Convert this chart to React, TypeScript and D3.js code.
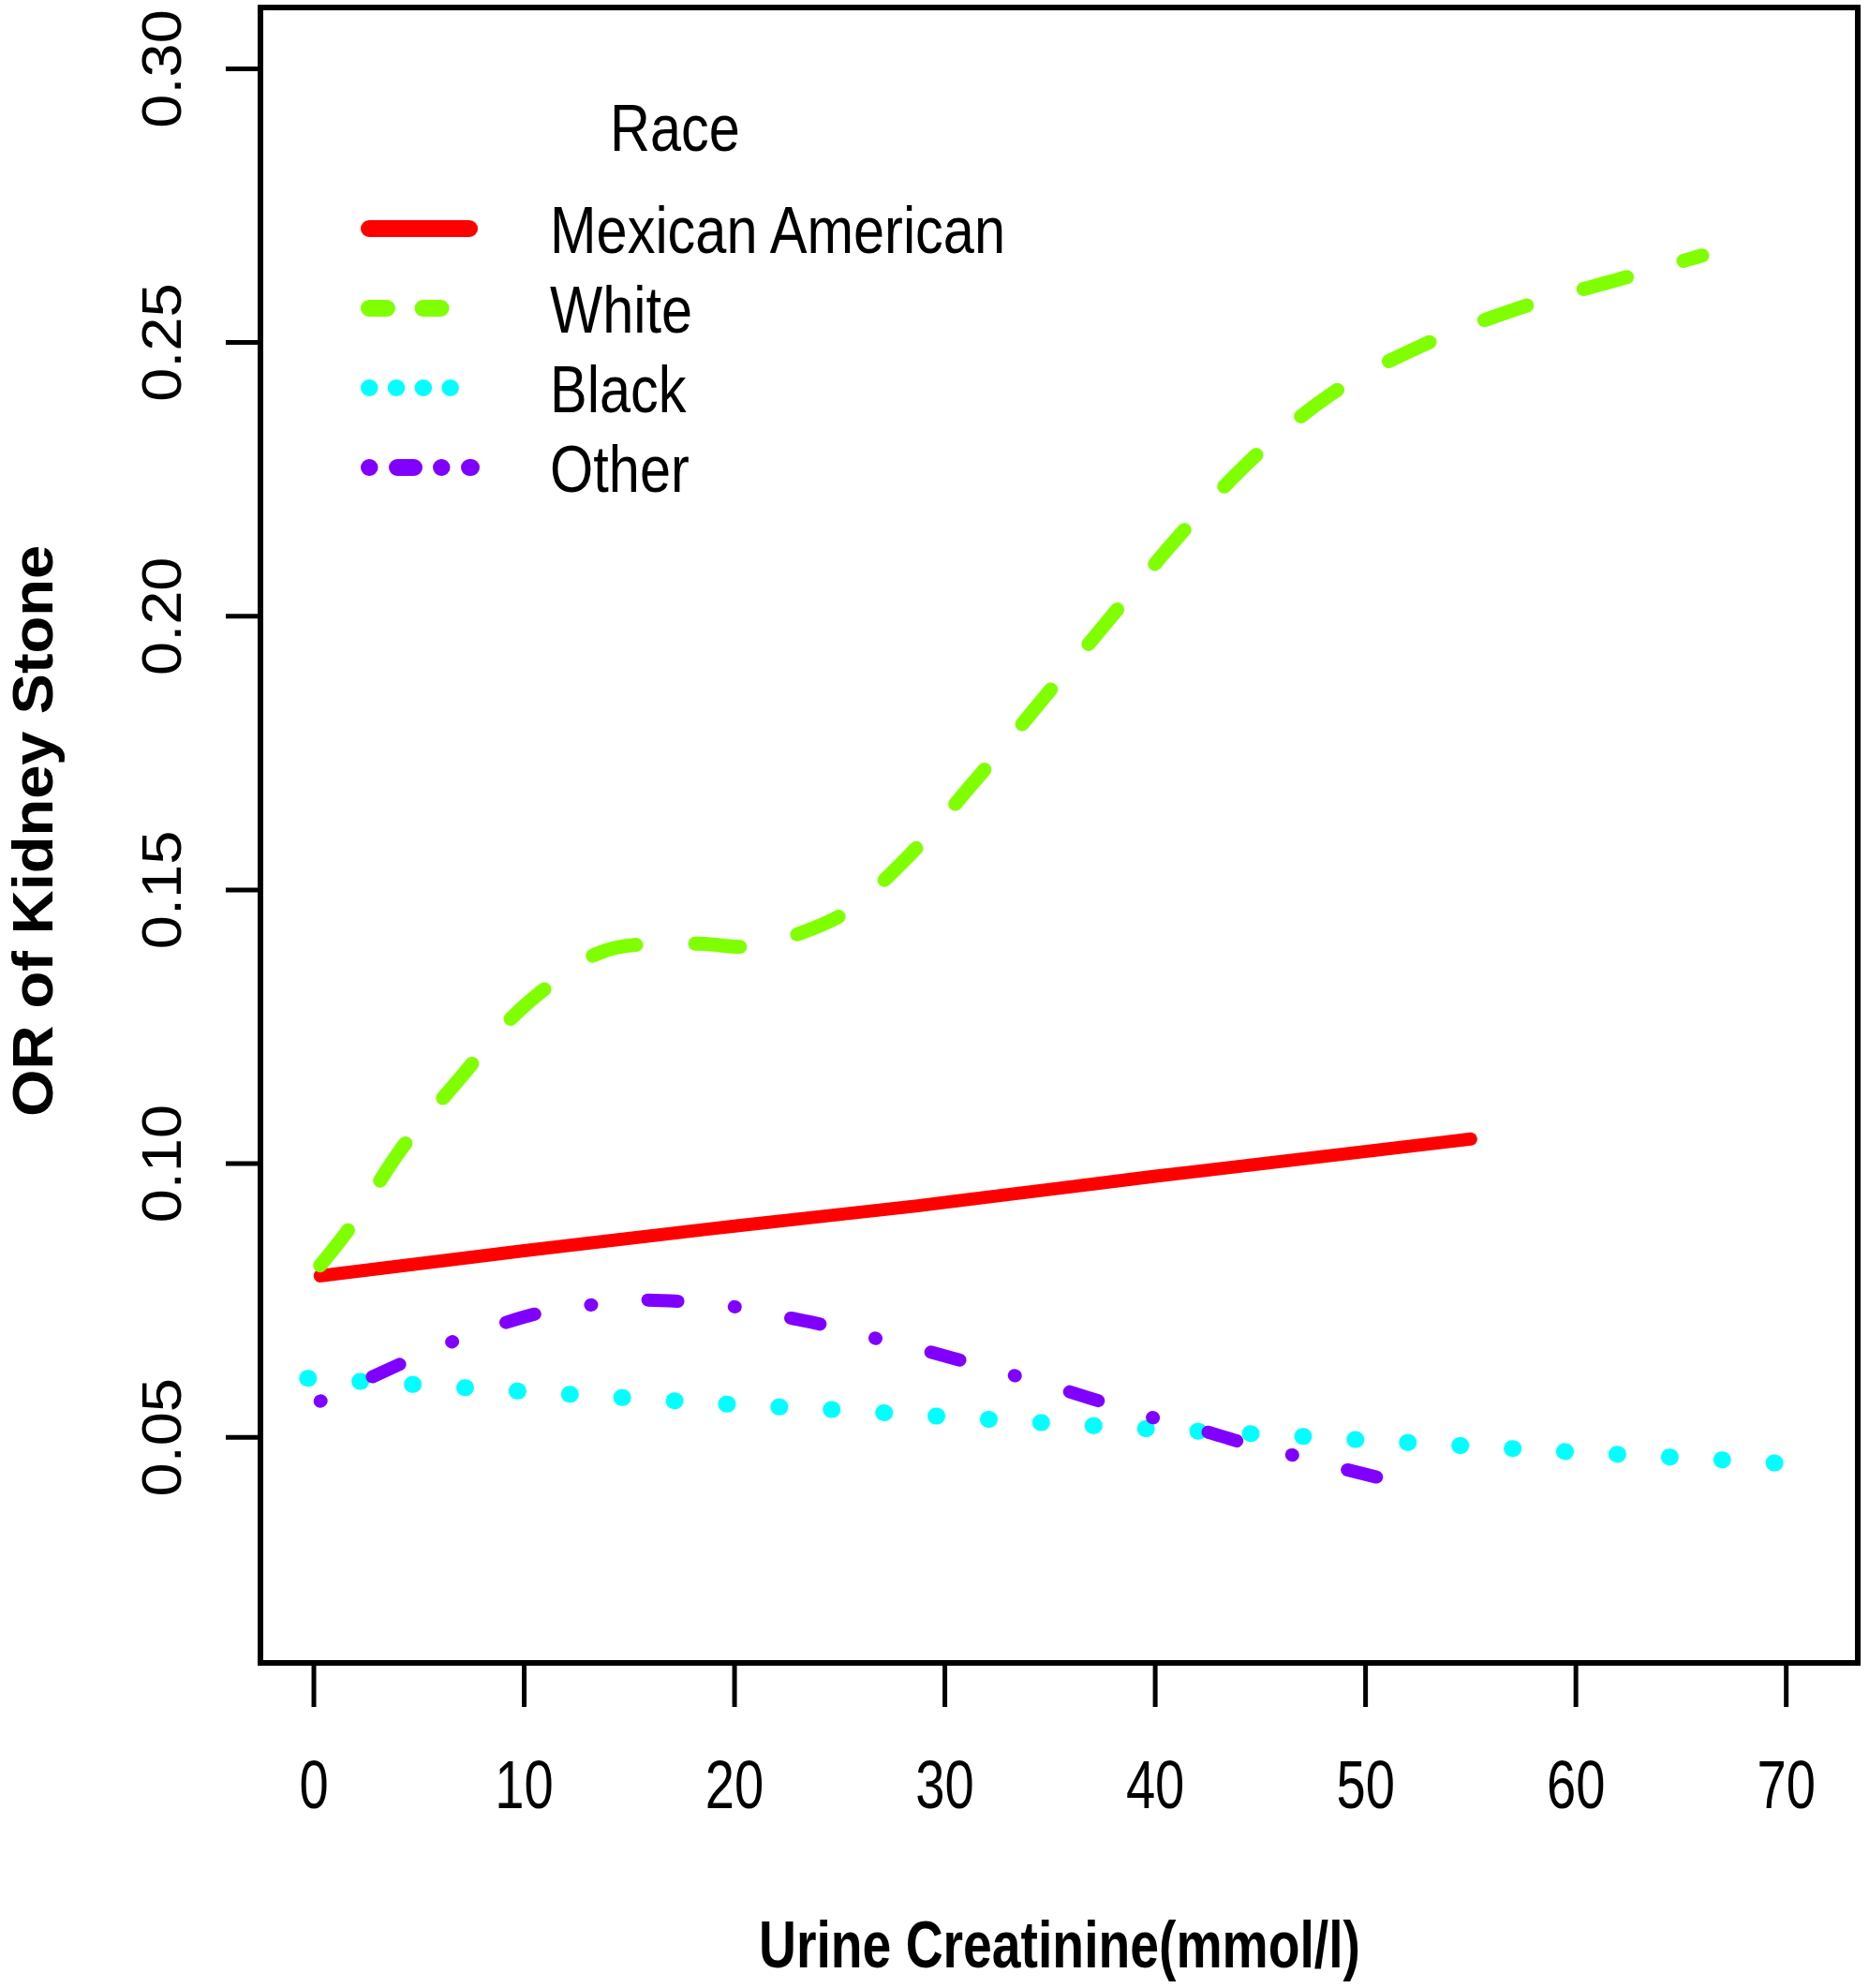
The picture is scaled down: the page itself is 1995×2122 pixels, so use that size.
import { useEffect, useRef } from 'react';
import * as d3 from 'd3';

const WIDTH = 1995;
const HEIGHT = 2122;

const xTicks = [0, 10, 20, 30, 40, 50, 60, 70];
const yTicks = [0.05, 0.1, 0.15, 0.2, 0.25, 0.3];

const races = ['Mexican American', 'White', 'Black', 'Other'];
const raceColors = ['#FF0000', '#80FF00', '#00FFFF', '#8000FF'];

// [urine creatinine, OR]
const mexicanAmerican: [number, number][] = [
  [0.3, 0.0795], [10, 0.0841], [20, 0.0886], [28.7, 0.0923], [40, 0.0977], [55, 0.1045],
];

const white: [number, number][] = [
  [0.3, 0.0814], [1.5, 0.0872], [4.1, 0.1024], [6.9, 0.1154], [9.5, 0.127], [11.1, 0.1323],
  [13.5, 0.1384], [15.5, 0.14], [18.2, 0.1402], [20.4, 0.1396], [23.2, 0.1422], [25.2, 0.1457],
  [28.2, 0.1559], [31.4, 0.1698], [34.6, 0.1846], [37.8, 0.1994], [41, 0.2141], [44.4, 0.228],
  [48.3, 0.2404], [52.6, 0.2493], [57.3, 0.2563], [62.1, 0.2616], [66, 0.2659],
];

const black: [number, number][] = [
  [-0.3, 0.0608], [5, 0.0596], [10, 0.0584], [15, 0.0572], [20, 0.056], [25, 0.055],
  [30, 0.0538], [35, 0.0526], [40, 0.0515], [45, 0.0506], [50, 0.0495], [55, 0.0484],
  [60, 0.0473], [65, 0.0463], [69.6, 0.0453],
];

const other: [number, number][] = [
  [0.3, 0.0566], [2.4, 0.0604], [4.4, 0.0639], [6.6, 0.0675], [8.9, 0.0707], [10.8, 0.0728],
  [13.2, 0.0742], [15.6, 0.0751], [17.6, 0.0748], [20.1, 0.0738], [22.4, 0.072], [24.4, 0.0704],
  [26.7, 0.0681], [29.1, 0.0658], [31.1, 0.0637], [33.4, 0.0612], [35.7, 0.0586], [37.7, 0.0562],
  [39.9, 0.0536], [42.2, 0.0513], [44.2, 0.049], [46.6, 0.0467], [48.9, 0.0443], [50.9, 0.0424],
];

const series = [mexicanAmerican, white, black, other];
// line styles: solid, dashed, dotted, dot-dash (R lty 1..4)
const plotDash = [null, '48 63', '1 55', '1 60.5 32 60.5'];
const plotWidth = [14, 15, 18, 14];
const legendDash = [null, '19 38.5', '0.5 28.3', '0.5 29.5 18 29'];
const legendEnd = [501, 471, 483, 503];

export default function App() {
  const svgRef = useRef<SVGSVGElement>(null);

  useEffect(() => {
    if (!svgRef.current) return;
    const svg = d3.select(svgRef.current);
    svg.selectAll('*').remove();

    const left = 278, right = 1983, top = 8, bottom = 1775;

    const x = d3.scaleLinear().domain([-2.54, 73.4]).range([left, right]);
    const y = d3.scaleLinear().domain([0.0088, 0.3112]).range([bottom, top]);

    const font = '"Liberation Sans", Arial, sans-serif';

    svg.append('rect')
      .attr('width', WIDTH).attr('height', HEIGHT).attr('fill', '#fff');

    // curves
    const line = d3.line<[number, number]>()
      .x(d => x(d[0]))
      .y(d => y(d[1]))
      .curve(d3.curveMonotoneX);

    series.forEach((s, i) => {
      const p = svg.append('path')
        .attr('d', line(s) as string)
        .attr('fill', 'none')
        .attr('stroke', raceColors[i])
        .attr('stroke-width', plotWidth[i])
        .attr('stroke-linecap', 'round')
        .attr('stroke-linejoin', 'round');
      if (plotDash[i]) p.attr('stroke-dasharray', plotDash[i] as string);
    });

    // box
    svg.append('rect')
      .attr('x', left).attr('y', top)
      .attr('width', right - left).attr('height', bottom - top)
      .attr('fill', 'none').attr('stroke', '#000').attr('stroke-width', 6);

    // x axis
    const gx = svg.append('g');
    xTicks.forEach(t => {
      gx.append('line')
        .attr('x1', x(t)).attr('x2', x(t))
        .attr('y1', bottom).attr('y2', 1822)
        .attr('stroke', '#000').attr('stroke-width', 5);
      gx.append('text')
        .attr('transform', `translate(${x(t)},1930) scale(0.78,1)`)
        .attr('text-anchor', 'middle')
        .style('font-family', font)
        .style('font-size', '72px')
        .text(String(t));
    });

    // y axis
    const gy = svg.append('g');
    yTicks.forEach(t => {
      gy.append('line')
        .attr('x1', 241).attr('x2', left)
        .attr('y1', y(t)).attr('y2', y(t))
        .attr('stroke', '#000').attr('stroke-width', 5);
      gy.append('text')
        .attr('transform', `translate(193,${y(t)}) scale(0.92,1) rotate(-90)`)
        .attr('text-anchor', 'middle')
        .style('font-family', font)
        .style('font-size', '65px')
        .text(t.toFixed(2));
    });

    // axis titles
    svg.append('text')
      .attr('transform', `translate(1131,2100) scale(0.79,1)`)
      .attr('text-anchor', 'middle')
      .style('font-family', font)
      .style('font-size', '70px')
      .style('font-weight', 'bold')
      .text('Urine Creatinine(mmol/l)');

    svg.append('text')
      .attr('transform', `translate(56,887) scale(0.95,1) rotate(-90)`)
      .attr('text-anchor', 'middle')
      .style('font-family', font)
      .style('font-size', '65px')
      .style('font-weight', 'bold')
      .text('OR of Kidney Stone');

    // legend
    const lg = svg.append('g');
    lg.append('text')
      .attr('transform', `translate(651,161) scale(0.85,1)`)
      .style('font-family', font)
      .style('font-size', '70px')
      .text('Race');

    races.forEach((r, i) => {
      const ly = 244 + i * 85;
      const l = lg.append('line')
        .attr('x1', 394).attr('x2', legendEnd[i])
        .attr('y1', ly).attr('y2', ly)
        .attr('stroke', raceColors[i])
        .attr('stroke-width', 18)
        .attr('stroke-linecap', 'round');
      if (legendDash[i]) l.attr('stroke-dasharray', legendDash[i] as string);
      lg.append('text')
        .attr('transform', `translate(587,${ly + 26}) scale(0.85,1)`)
        .style('font-family', font)
        .style('font-size', '70px')
        .text(r);
    });
  }, []);

  return (
    <svg
      ref={svgRef}
      width={WIDTH}
      height={HEIGHT}
      style={{ position: 'absolute', left: 0, top: 0, display: 'block' }}
    />
  );
}
